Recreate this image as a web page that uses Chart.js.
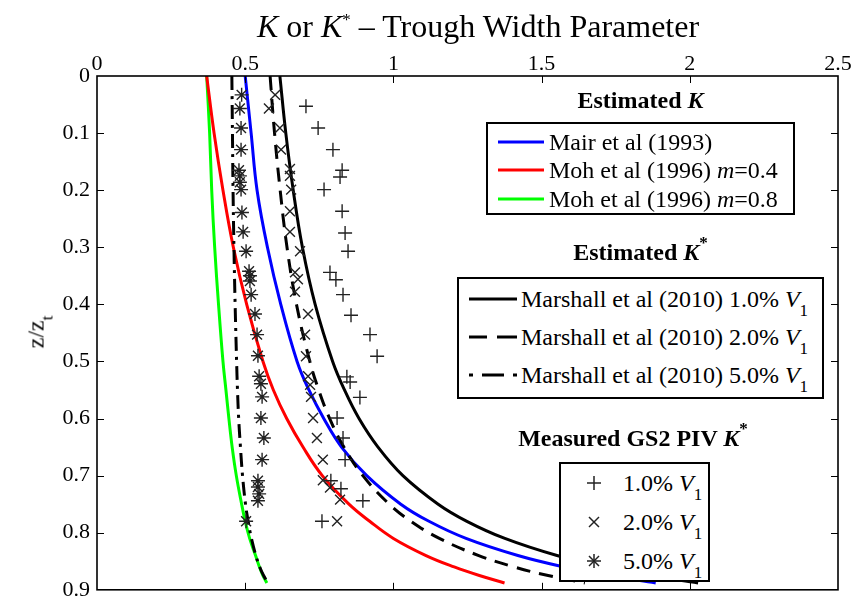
<!DOCTYPE html>
<html>
<head>
<meta charset="utf-8">
<script src="https://cdn.jsdelivr.net/npm/chart.js"></script>
<style>
  body { margin: 0; background: #fff; }
  #wrap { position: relative; width: 858px; height: 610px; font-family: "Liberation Serif", "Times New Roman", serif; color: #000; }
  #c { position: absolute; left: 0; top: 0; }
  .title { position: absolute; left: 97px; width: 762px; top: 9px; text-align: center; font-size: 32px; line-height: 34px; white-space: nowrap; }
  .ylab { position: absolute; left: 36px; top: 332px; font-size: 24px; transform: translate(-50%, -50%) rotate(-90deg); white-space: nowrap; }
  .hd { position: absolute; text-align: center; font-weight: bold; font-size: 24px; line-height: 28px; white-space: nowrap; }
  .box { position: absolute; box-sizing: border-box; border: 2px solid #000; background: #fff; }
  .row { position: absolute; left: 0; height: 28px; line-height: 28px; font-size: 24px; white-space: nowrap; }
  .row svg { position: absolute; top: 0; }
  .row span { position: absolute; top: 0; }
  sub { font-size: 17px; vertical-align: -9px; line-height: 0; }
  sup { font-size: 17px; vertical-align: 12px; line-height: 0; }
</style>
</head>
<body>
<div id="wrap">
  <canvas id="c" width="858" height="610"></canvas>
  <div class="title"><i>K</i> or <i>K</i><sup>*</sup> – Trough Width Parameter</div>
  <div class="ylab">z/z<sub>t</sub></div>

  <div class="hd" style="left:486px;width:309px;top:86px">Estimated <i>K</i></div>
  <div class="box" style="left:486px;top:122px;width:309px;height:93px">
    <div class="row" style="top:4px"><svg width="60" height="28"><line x1="10" y1="14" x2="56" y2="14" stroke="#0000ff" stroke-width="3"/></svg><span style="left:61px">Mair et al (1993)</span></div>
    <div class="row" style="top:32px"><svg width="60" height="28"><line x1="10" y1="14" x2="56" y2="14" stroke="#ff0000" stroke-width="3"/></svg><span style="left:61px">Moh et al (1996) <i>m</i>=0.4</span></div>
    <div class="row" style="top:61px"><svg width="60" height="28"><line x1="10" y1="14" x2="56" y2="14" stroke="#00ff00" stroke-width="3"/></svg><span style="left:61px">Moh et al (1996) <i>m</i>=0.8</span></div>
  </div>

  <div class="hd" style="left:486px;width:309px;top:238px">Estimated <i>K</i><sup>*</sup></div>
  <div class="box" style="left:457px;top:277px;width:367px;height:122px">
    <div class="row" style="top:6px"><svg width="62" height="28"><line x1="10" y1="14" x2="58" y2="14" stroke="#000" stroke-width="3"/></svg><span style="left:62px">Marshall et al (2010) 1.0% <i>V</i><sub>1</sub></span></div>
    <div class="row" style="top:44px"><svg width="62" height="28"><line x1="10" y1="14" x2="28" y2="14" stroke="#000" stroke-width="3"/><line x1="38" y1="14" x2="58" y2="14" stroke="#000" stroke-width="3"/></svg><span style="left:62px">Marshall et al (2010) 2.0% <i>V</i><sub>1</sub></span></div>
    <div class="row" style="top:82px"><svg width="62" height="28"><line x1="10" y1="14" x2="14" y2="14" stroke="#000" stroke-width="3"/><line x1="23" y1="14" x2="45" y2="14" stroke="#000" stroke-width="3"/><line x1="54" y1="14" x2="58" y2="14" stroke="#000" stroke-width="3"/></svg><span style="left:62px">Marshall et al (2010) 5.0% <i>V</i><sub>1</sub></span></div>
  </div>

  <div class="hd" style="left:480px;width:306px;top:424px">Measured GS2 PIV <i>K</i><sup>*</sup></div>
  <div class="box" style="left:559px;top:462px;width:151px;height:120px">
    <div class="row" style="top:5px"><svg width="60" height="28"><g stroke="#222" stroke-width="1.5"><line x1="26" y1="14" x2="40" y2="14"/><line x1="33" y1="7" x2="33" y2="21"/></g></svg><span style="left:62px">1.0% <i>V</i><sub>1</sub></span></div>
    <div class="row" style="top:44px"><svg width="60" height="28"><g stroke="#222" stroke-width="1.5"><line x1="28" y1="9" x2="38" y2="19"/><line x1="28" y1="19" x2="38" y2="9"/></g></svg><span style="left:62px">2.0% <i>V</i><sub>1</sub></span></div>
    <div class="row" style="top:83px"><svg width="60" height="28"><g stroke="#222" stroke-width="1.5"><line x1="26" y1="14" x2="40" y2="14"/><line x1="33" y1="7" x2="33" y2="21"/><line x1="28" y1="9" x2="38" y2="19"/><line x1="28" y1="19" x2="38" y2="9"/></g></svg><span style="left:62px">5.0% <i>V</i><sub>1</sub></span></div>
  </div>
</div>

<script>
// depth ratio z/zt where the estimated curves were read
var zCurve = [0, 0.1, 0.2, 0.3, 0.4, 0.5, 0.55, 0.6, 0.65, 0.7, 0.75, 0.78, 0.81, 0.84, 0.86, 0.875, 0.888];

// estimated K
var kMair   = [0.50, 0.52, 0.54, 0.575, 0.62, 0.675, 0.715, 0.765, 0.825, 0.91, 1.025, 1.12, 1.245, 1.42, 1.575, 1.725, 1.885];
var kMoh04  = [0.37, 0.395, 0.425, 0.46, 0.505, 0.56, 0.595, 0.64, 0.695, 0.76, 0.85, 0.92, 1.0, 1.11, 1.205, 1.29, 1.375];
var kMoh08  = [0.37, 0.38, 0.387, 0.397, 0.41, 0.425, 0.435, 0.445, 0.456, 0.47, 0.488, 0.50, 0.515, 0.535, 0.548, 0.56, 0.573];

// estimated K*
var kMarsh1 = [0.617, 0.637, 0.662, 0.693, 0.736, 0.795, 0.835, 0.884, 0.948, 1.032, 1.151, 1.248, 1.376, 1.552, 1.71, 1.863, 2.028];
var kMarsh2 = [0.584, 0.599, 0.618, 0.641, 0.673, 0.718, 0.748, 0.785, 0.833, 0.897, 0.986, 1.059, 1.155, 1.288, 1.407, 1.522, 1.646];
var kMarsh5 = [0.455, 0.457, 0.459, 0.462, 0.466, 0.471, 0.474, 0.478, 0.484, 0.491, 0.501, 0.51, 0.521, 0.536, 0.549, 0.562, 0.577];

// measured GS2 PIV K*
var zPiv1 = [0.053, 0.091, 0.129, 0.165, 0.177, 0.199, 0.237, 0.275, 0.307, 0.344, 0.357, 0.383, 0.419, 0.453, 0.491, 0.527, 0.536, 0.563, 0.599, 0.634, 0.672, 0.709, 0.723, 0.744, 0.78];
var kPiv1 = [0.705, 0.746, 0.796, 0.827, 0.82, 0.766, 0.827, 0.837, 0.847, 0.786, 0.806, 0.83, 0.857, 0.921, 0.945, 0.843, 0.854, 0.887, 0.81, 0.83, 0.837, 0.789, 0.823, 0.897, 0.759];
var zPiv2 = [0.033, 0.057, 0.091, 0.129, 0.163, 0.175, 0.199, 0.237, 0.273, 0.307, 0.344, 0.356, 0.378, 0.417, 0.453, 0.491, 0.526, 0.541, 0.562, 0.599, 0.634, 0.672, 0.708, 0.721, 0.742, 0.78];
var kPiv2 = [0.601, 0.58, 0.617, 0.621, 0.651, 0.651, 0.655, 0.651, 0.651, 0.685, 0.668, 0.678, 0.668, 0.712, 0.702, 0.705, 0.712, 0.719, 0.722, 0.729, 0.742, 0.762, 0.762, 0.786, 0.82, 0.81];
var zPiv5 = [0.033, 0.057, 0.091, 0.129, 0.165, 0.175, 0.186, 0.199, 0.239, 0.273, 0.307, 0.342, 0.35, 0.359, 0.383, 0.417, 0.453, 0.49, 0.526, 0.539, 0.562, 0.599, 0.634, 0.672, 0.709, 0.72, 0.732, 0.744, 0.78];
var kPiv5 = [0.488, 0.482, 0.486, 0.486, 0.479, 0.482, 0.482, 0.486, 0.489, 0.493, 0.503, 0.513, 0.516, 0.516, 0.52, 0.533, 0.54, 0.543, 0.547, 0.553, 0.557, 0.553, 0.563, 0.557, 0.543, 0.543, 0.547, 0.543, 0.503];

var xTicks = [0, 0.5, 1, 1.5, 2, 2.5];
var yTicks = [0, 0.1, 0.2, 0.3, 0.4, 0.5, 0.6, 0.7, 0.8, 0.9];

function pts(ks, zs) {
  return ks.map(function (k, i) { return { x: k, y: zs[i] }; });
}

function curve(ks, color, dash) {
  return {
    data: pts(ks, zCurve), showLine: true, pointRadius: 0,
    borderColor: color, borderWidth: 3, borderDash: dash || [], tension: 0.4, fill: false
  };
}

function marks(ks, zs, style, r) {
  return {
    data: pts(ks, zs), showLine: false, pointStyle: style, pointRadius: r,
    borderColor: '#222', backgroundColor: '#222', pointBorderWidth: 1.4
  };
}

// MATLAB style box with inward ticks on all four sides
var frame = {
  id: 'frame',
  afterDraw: function (chart) {
    var c = chart.ctx, a = chart.chartArea, sx = chart.scales.x, sy = chart.scales.y;
    c.save();
    c.strokeStyle = '#000';
    c.lineWidth = 1;
    xTicks.slice(1, -1).forEach(function (v) {
      var p = Math.round(sx.getPixelForValue(v)) + 0.5;
      c.beginPath();
      c.moveTo(p, a.top); c.lineTo(p, a.top + 7);
      c.moveTo(p, a.bottom); c.lineTo(p, a.bottom - 7);
      c.stroke();
    });
    yTicks.slice(1, -1).forEach(function (v) {
      var p = Math.round(sy.getPixelForValue(v)) + 0.5;
      c.beginPath();
      c.moveTo(a.left, p); c.lineTo(a.left + 7, p);
      c.moveTo(a.right, p); c.lineTo(a.right - 7, p);
      c.stroke();
    });
    c.lineWidth = 1.6;
    c.strokeRect(a.left, a.top, a.right - a.left, a.bottom - a.top);
    c.restore();
  }
};

var tickFont = { family: 'Liberation Serif', size: 22 };

new Chart(document.getElementById('c'), {
  type: 'scatter',
  data: {
    datasets: [
      marks(kPiv1, zPiv1, 'cross', 7),
      marks(kPiv2, zPiv2, 'crossRot', 7),
      marks(kPiv5, zPiv5, 'star', 7),
      curve(kMarsh1, '#000'),
      curve(kMarsh2, '#000', [14, 9]),
      curve(kMarsh5, '#000', [14, 6, 3, 6]),
      curve(kMair, '#0000ff'),
      curve(kMoh04, '#ff0000'),
      curve(kMoh08, '#00ff00')
    ]
  },
  options: {
    responsive: false,
    animation: false,
    layout: { padding: { left: 0, top: 0, right: 20, bottom: 13 } },
    plugins: { legend: { display: false }, tooltip: { enabled: false } },
    scales: {
      x: {
        type: 'linear', position: 'top', min: 0, max: 2.5,
        afterBuildTicks: function (s) { s.ticks = xTicks.map(function (v) { return { value: v }; }); },
        afterFit: function (s) { s.height = 76; },
        ticks: { font: tickFont, color: '#000', padding: -1, maxRotation: 0, callback: function (v) { return String(v); } },
        grid: { display: false, drawTicks: false },
        border: { display: false }
      },
      y: {
        type: 'linear', reverse: true, min: 0, max: 0.9,
        afterBuildTicks: function (s) { s.ticks = yTicks.map(function (v) { return { value: v }; }); },
        afterFit: function (s) { s.width = 97; },
        ticks: { font: tickFont, color: '#000', padding: 7, callback: function (v) { return String(v); } },
        grid: { display: false, drawTicks: false },
        border: { display: false }
      }
    }
  },
  plugins: [frame]
});
</script>
</body>
</html>
